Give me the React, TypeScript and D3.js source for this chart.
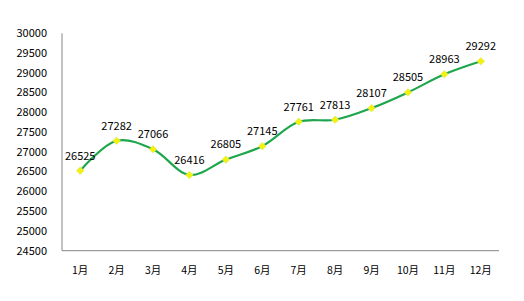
import React from "react";
import * as d3 from "d3";

const months = ["1月","2月","3月","4月","5月","6月","7月","8月","9月","10月","11月","12月"];
const values = [26525,27282,27066,26416,26805,27145,27761,27813,28107,28505,28963,29292];
const yTicks = [24500,25000,25500,26000,26500,27000,27500,28000,28500,29000,29500,30000];

export default function App() {
  const W = 524, H = 301;
  const left = 62, right = 499, top = 33.3, bottom = 250.7;
  const x = d3.scaleBand<string>().domain(months).range([left, right]);
  const y = d3.scaleLinear().domain([24500, 30000]).range([bottom, top]);
  const cx = (m: string) => (x(m) as number) + x.bandwidth() / 2;
  const line = d3.line<number>()
    .x((_, i) => cx(months[i]))
    .y((v) => y(v))
    .curve(d3.curveCatmullRom.alpha(0.5));
  const font = "'Noto Sans CJK SC', 'DejaVu Sans', sans-serif";
  return (
    <svg width={W} height={H} style={{ position: "absolute", left: 0, top: 0, background: "#fff" }}>
      <line x1={left} x2={left} y1={top} y2={bottom} stroke="#868686" strokeWidth={1} />
      <line x1={left} x2={right} y1={bottom} y2={bottom} stroke="#868686" strokeWidth={1} />
      {yTicks.map((t) => (
        <text key={t} x={47} y={y(t)} dy="0.35em" textAnchor="end" fontSize={11} fontFamily={font} fill="#000">{t}</text>
      ))}
      {months.map((m) => (
        <text key={m} x={cx(m)} y={270} dy="0.35em" textAnchor="middle" fontSize={10.5} fontFamily={font} fill="#000">{m}</text>
      ))}
      <path d={line(values) || ""} fill="none" stroke="#1ea64c" strokeWidth={2.2} />
      {values.map((v, i) => {
        const px = cx(months[i]), py = y(v);
        const s = 3.8;
        return (
          <path key={i} d={`M${px},${py - s}L${px + s},${py}L${px},${py + s}L${px - s},${py}Z`} fill="#f2f20a" stroke="#d8e87a" strokeWidth={0.6} />
        );
      })}
      {values.map((v, i) => (
        <text key={"l" + i} x={cx(months[i])} y={y(v) - 15} dy="0.35em" textAnchor="middle" fontSize={11} fontFamily={font} fill="#000">{v}</text>
      ))}
    </svg>
  );
}
